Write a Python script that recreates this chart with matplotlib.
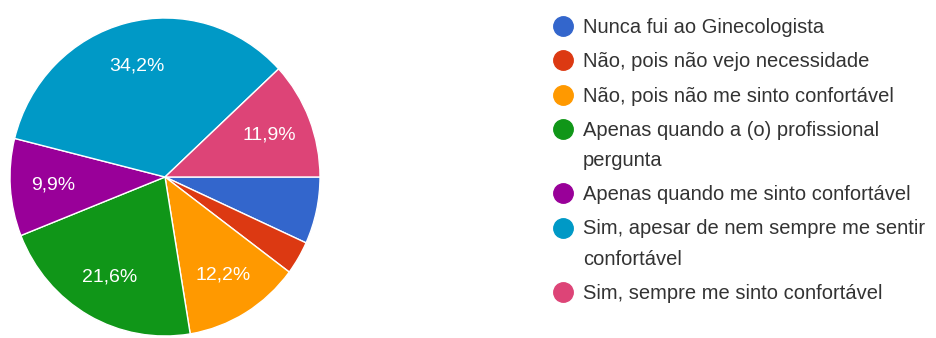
import matplotlib
matplotlib.use("Agg")
import matplotlib.pyplot as plt
from matplotlib.lines import Line2D

plt.rcParams['font.family'] = ['Liberation Sans', 'DejaVu Sans']

# Survey answers (share of respondents, %)
labels = [
    "Nunca fui ao Ginecologista",
    "Não, pois não vejo necessidade",
    "Não, pois não me sinto confortável",
    "Apenas quando a (o) profissional\npergunta",
    "Apenas quando me sinto confortável",
    "Sim, apesar de nem sempre me sentir\nconfortável",
    "Sim, sempre me sinto confortável",
]
shares = [6.8, 3.4, 12.2, 21.6, 9.9, 34.2, 11.9]
colors = ["#3366cc", "#dc3912", "#ff9900", "#109618", "#990099", "#0099c6", "#dd4477"]

W, H = 937, 338
fig = plt.figure(figsize=(W / 100, H / 100), dpi=100)

# pie placed in pixel terms (slightly taller than wide)
cx, cy, rx, ry = 165, 177, 155, 159
ax = fig.add_axes([(cx - rx) / W, (H - cy - ry) / H, 2 * rx / W, 2 * ry / H])

def fmt(p):
    return f"{p:.1f}%".replace(".", ",") if p >= 9 else ""

wedges, texts, autotexts = ax.pie(
    shares, colors=colors, startangle=0, counterclock=False,
    autopct=fmt, pctdistance=0.72, radius=1,
    wedgeprops=dict(edgecolor="white", linewidth=1.0),
    textprops=dict(color="white", fontsize=14),
)
ax.set_xlim(-1, 1)
ax.set_ylim(-1, 1)
ax.set_aspect("auto")
ax.axis("off")

# legend drawn on the right
x_dot, x_txt = 563, 583
fs = 14.5
y = 26
for lab, col in zip(labels, colors):
    fig.add_artist(Line2D([x_dot / W], [1 - y / H], marker="o", markersize=14,
                          color=col, linestyle="none", transform=fig.transFigure))
    fig.text(x_txt / W, 1 - (y - 8) / H, lab, fontsize=fs, color="#333333",
             va="top", ha="left", linespacing=1.74)
    y += 34.3 + 30 * lab.count("\n")

fig.savefig("out.png", dpi=100)
